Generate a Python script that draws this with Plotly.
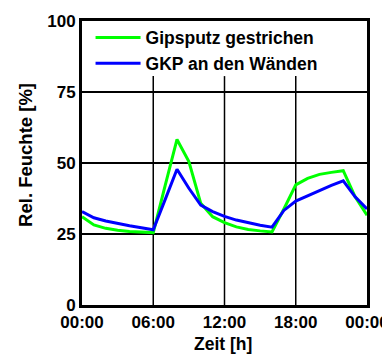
import plotly.graph_objects as go

hours = list(range(25))
gipsputz = [31.1, 28.2, 27.0, 26.3, 25.9, 25.7, 25.5, 42.0, 58.3, 50.5, 35.8, 31.1,
            29.0, 27.5, 26.6, 26.1, 25.7, 33.8, 42.3, 44.6, 46.0, 46.7, 47.3, 38.1, 31.6]
gkp = [32.9, 30.7, 29.6, 28.7, 27.9, 27.2, 26.5, 37.1, 47.8, 41.1, 35.2, 32.9,
       31.2, 29.9, 28.9, 28.1, 27.4, 33.3, 36.6, 38.5, 40.4, 42.1, 43.7, 38.1, 33.8]
names = ["Gipsputz gestrichen", "GKP an den Wänden"]
x_tickvals = [0, 6, 12, 18, 24]
x_ticktext = ["00:00", "06:00", "12:00", "18:00", "00:00"]
y_tickvals = [0, 25, 50, 75, 100]
x_title = "Zeit [h]"
y_title = "Rel. Feuchte [%]"

FAM = "Liberation Sans, Arial, sans-serif"
font = dict(family=FAM, size=17, color="black")

fig = go.Figure()
fig.add_trace(go.Scatter(x=hours, y=gipsputz, mode="lines", name=names[0],
                         line=dict(color="#00FF00", width=3)))
fig.add_trace(go.Scatter(x=hours, y=gkp, mode="lines", name=names[1],
                         line=dict(color="#0000FF", width=3)))

# vertical grid lines stop below the legend area
for v in x_tickvals[1:-1]:
    fig.add_shape(type="line", xref="x", yref="y domain", x0=v, x1=v, y0=0, y1=0.806,
                  line=dict(color="black", width=1.5), layer="below")

# axis titles as annotations for exact placement
fig.add_annotation(text=f"<b>{x_title}</b>", xref="paper", yref="paper",
                   x=0.495, y=-0.138, xanchor="center", yanchor="middle",
                   showarrow=False, font=dict(family=FAM, size=17.5, color="black"))
fig.add_annotation(text=f"<b>{y_title}</b>", xref="paper", yref="paper",
                   x=-0.196, y=0.529, xanchor="center", yanchor="middle", textangle=-90,
                   showarrow=False, font=dict(family=FAM, size=18.5, color="black"))

# page body has an 8px margin: shrink figure accordingly
fig.update_layout(
    width=382, height=348,
    margin=dict(l=74, r=23, t=13, b=51),
    paper_bgcolor="white", plot_bgcolor="white",
    font=font,
    legend=dict(x=0.03, y=1.005, xanchor="left", yanchor="top",
                bgcolor="rgba(0,0,0,0)", borderwidth=0, itemwidth=45,
                font=dict(family=FAM, size=17.5, color="black", weight="bold"),
                tracegroupgap=0),
    xaxis=dict(range=[0, 24], tickvals=x_tickvals, ticktext=x_ticktext,
               showgrid=False,
               showline=True, linecolor="black", linewidth=3, mirror=True,
               ticks="", zeroline=False, automargin=False,
               tickfont=dict(weight="bold")),
    yaxis=dict(range=[0, 100], tickvals=y_tickvals,
               showgrid=True, gridcolor="black", gridwidth=1.5,
               showline=True, linecolor="black", linewidth=3, mirror=True,
               ticks="", zeroline=False, automargin=False,
               tickfont=dict(weight="bold")),
)
fig.write_html("out.html")
